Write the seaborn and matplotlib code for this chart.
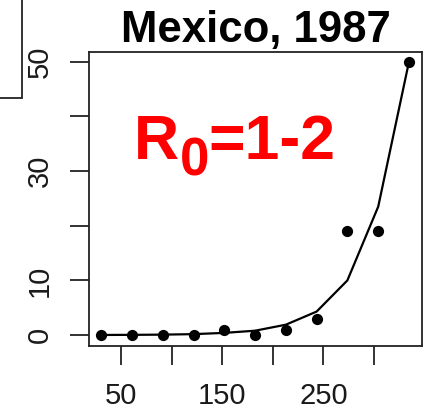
import numpy as np
import pandas as pd
import matplotlib
matplotlib.use("Agg")
import matplotlib.pyplot as plt
from matplotlib.lines import Line2D
import seaborn as sns

# Monthly case counts and the fitted exponential curve
days = [30.4, 60.8, 91.2, 121.6, 152.0, 182.5, 212.9, 243.3, 273.7, 304.2, 334.6]
observed = [0, 0, 0, 0, 1, 0, 1, 3, 19, 19, 50]
fitted = [0.02, 0.04, 0.08, 0.17, 0.4, 0.8, 1.9, 4.3, 10, 23.5, 50]
x_ticks = [50, 100, 150, 200, 250, 300]
x_labels = ["50", "", "150", "", "250", ""]
y_ticks = [0, 10, 20, 30, 40, 50]
y_labels = ["0", "10", "", "30", "", "50"]

sns.set_theme(style="white")
plt.rcParams["font.family"] = ["Liberation Sans", "DejaVu Sans"]
plt.rcParams["text.color"] = "black"

df = pd.DataFrame({"day": days, "observed": observed, "fitted": fitted})

fig = plt.figure(figsize=(4.27, 4.12), dpi=100)
ax = fig.add_axes([0.2084, 0.1602, 0.7799, 0.7136])

sns.lineplot(data=df, x="day", y="fitted", ax=ax, color="black", linewidth=1.6)
sns.scatterplot(data=df, x="day", y="observed", ax=ax, color="black", s=65,
                edgecolor="black", linewidth=0)

ax.set_xlim(18.2, 347.5)
ax.set_ylim(-2.0, 51.8)
ax.set_xticks(x_ticks)
ax.set_xticklabels(x_labels)
ax.set_yticks(y_ticks)
ax.set_yticklabels(y_labels, rotation=90, va="center")
ax.set_xlabel("")
ax.set_ylabel("")

for s in ax.spines.values():
    s.set_visible(True)
    s.set_color("#222222")
    s.set_linewidth(1.3)

ax.tick_params(axis="both", which="major", direction="out", length=13.5,
               width=1.3, color="#222222", labelsize=21, labelcolor="#1a1a1a",
               bottom=True, left=True)
ax.tick_params(axis="x", pad=12.5)
ax.tick_params(axis="y", pad=12)

ax.set_title("Mexico, 1987", fontsize=31.5, fontweight="bold", pad=7,
             color="black")

# Red annotation R0=1-2 with a large subscript
red = "#ff0000"
t_r = ax.text(63, 32.3, "R", color=red, fontsize=45, fontweight="bold",
              ha="left", va="baseline")
t_sub = ax.annotate("0", xy=(1, 0), xycoords=t_r, xytext=(0, -3),
                    textcoords="offset points", color=red, fontsize=38,
                    fontweight="bold", ha="left", va="baseline")
ax.annotate("=1-2", xy=(1, 0), xycoords=(t_sub, t_r), xytext=(0, 0),
            textcoords="offset points", color=red, fontsize=45,
            fontweight="bold", ha="left", va="bottom")

# Frame edge of the neighbouring panel
fig.add_artist(Line2D([22 / 427, 22 / 427], [1.0, 1 - 98 / 412],
                      transform=fig.transFigure, color="#222222", linewidth=1.3))
fig.add_artist(Line2D([0, 22 / 427], [1 - 98 / 412, 1 - 98 / 412],
                      transform=fig.transFigure, color="#222222", linewidth=1.3))

fig.savefig("out.png", dpi=100)
